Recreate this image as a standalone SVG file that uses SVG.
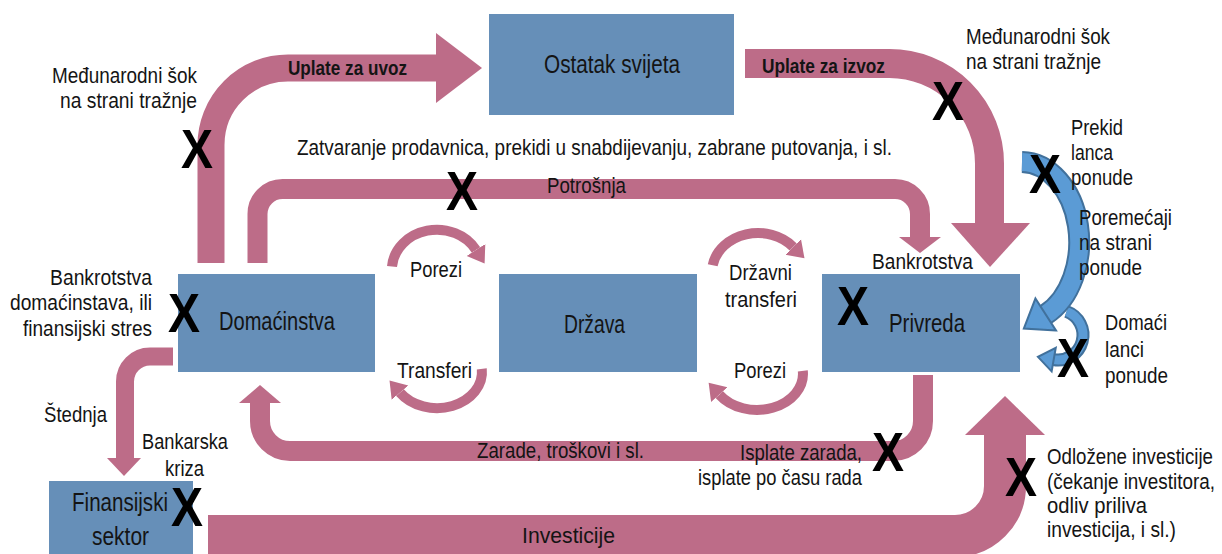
<svg xmlns="http://www.w3.org/2000/svg" width="1222" height="554" viewBox="0 0 1222 554">
<style>
.box{fill:#668fb8}
.t{font-family:"Liberation Sans",Arial,sans-serif;font-size:22px;fill:#141414}
.bt{font-size:25px}
.bold{font-weight:bold;font-size:21px}
.x{font-family:"Liberation Sans",Arial,sans-serif;font-weight:bold;font-size:56px;fill:#000;text-anchor:middle}
.mid{text-anchor:middle}
.end{text-anchor:end}
.pk{fill:none;stroke:#bd6c88}
.pf{fill:#bd6c88}
.sm{fill:none;stroke:#bd6c88;stroke-width:10}
.bo{fill:none;stroke:#41719c}
.bi{fill:none;stroke:#5b9bd5}
</style>
<defs>
<marker id="ph" markerUnits="userSpaceOnUse" viewBox="0 -12 18 24" markerWidth="18" markerHeight="24" refX="0" refY="0" orient="auto">
<path d="M0,-11 L16,0 L0,11 z" fill="#bd6c88"/>
</marker>
<marker id="bh" markerUnits="userSpaceOnUse" viewBox="-2 -22 32 44" markerWidth="32" markerHeight="44" refX="0" refY="0" orient="auto">
<path d="M0,-19 L26,0 L0,19 z" fill="#5b9bd5" stroke="#41719c" stroke-width="2"/>
</marker>
<marker id="bs" markerUnits="userSpaceOnUse" viewBox="-2 -14 20 28" markerWidth="20" markerHeight="28" refX="0" refY="0" orient="auto">
<path d="M0,-12 L16,0 L0,12 z" fill="#5b9bd5" stroke="#41719c" stroke-width="2"/>
</marker>
</defs>

<g id="connectors">
<path class="pk" stroke-width="27" d="M211,263 V145 A77,77 0 0 1 288,68 H437"/>
<polygon class="pf" points="436,33 482,68 436,103"/>
<path class="pk" stroke-width="29" d="M745,63.5 H889.5 A100,100 0 0 1 989.5,163.5 V224"/>
<polygon class="pf" points="951,223 1030,223 990,267"/>
<path class="pk" stroke-width="20" d="M257.5,263 V214 A25,25 0 0 1 282.5,189 H895 A25,25 0 0 1 920,214 V238"/>
<polygon class="pf" points="899,237 941,237 920,253"/>
<path class="pk" stroke-width="20" d="M923,375 V421 A30,30 0 0 1 893,451 H290 A30,30 0 0 1 260,421 V402"/>
<polygon class="pf" points="239,403 281,403 260,385"/>
<path class="pk" stroke-width="18" d="M173,356.5 H150 A25,25 0 0 0 125,381.5 V459"/>
<polygon class="pf" points="107,458 141,458 124,476"/>
<path class="pk" stroke-width="42" d="M208,536 H955 A50,50 0 0 0 1005,486 V434"/>
<polygon class="pf" points="965,435 1045,435 1005,396"/>
<path class="sm" marker-end="url(#ph)" d="M392,266.5 A45,40 0 0 1 476,250"/>
<path class="sm" marker-end="url(#ph)" d="M481.8,368.9 A45,36 0 0 1 400,392.6"/>
<path class="sm" marker-end="url(#ph)" d="M712.7,265.2 A46,39 0 0 1 793.2,246.9"/>
<path class="sm" marker-end="url(#ph)" d="M802.8,370.9 A46,36 0 0 1 719.3,394.6"/>
<path class="bo" stroke-width="13" d="M1066.6,311.5 A25,25 0 0 1 1053.7,359.6"/>
<path class="bi" stroke-width="9" marker-end="url(#bs)" d="M1066.6,311.5 A25,25 0 0 1 1053.7,359.6"/>
<path class="bo" stroke-width="22" d="M1022,162 A58,80 0 0 1 1045.7,314.5"/>
<path class="bi" stroke-width="18" marker-end="url(#bh)" d="M1022,162 A58,80 0 0 1 1045.7,314.5"/>
</g>

<g id="ostatak">
<rect class="box" x="489" y="14" width="245" height="101"/>
<text class="t bt mid" x="612" y="73" textLength="136" lengthAdjust="spacingAndGlyphs">Ostatak svijeta</text>
</g>
<g id="domacinstva">
<rect class="box" x="178" y="274" width="197" height="98"/>
<text class="t bt mid" x="277" y="330" textLength="116" lengthAdjust="spacingAndGlyphs">Domaćinstva</text>
</g>
<g id="drzava">
<rect class="box" x="499" y="274" width="198" height="98"/>
<text class="t bt mid" x="594.5" y="333" textLength="61" lengthAdjust="spacingAndGlyphs">Država</text>
</g>
<g id="privreda">
<rect class="box" x="822" y="274" width="198" height="98"/>
<text class="t bt mid" x="927" y="332" textLength="76" lengthAdjust="spacingAndGlyphs">Privreda</text>
</g>
<g id="finansijski">
<rect class="box" x="49" y="481" width="144" height="80"/>
<text class="t bt mid" x="120" y="511" textLength="96" lengthAdjust="spacingAndGlyphs">Finansijski</text>
<text class="t bt mid" x="120.5" y="545" textLength="57" lengthAdjust="spacingAndGlyphs">sektor</text>
</g>

<g id="labels">
<text class="t end" x="197" y="83" textLength="145" lengthAdjust="spacingAndGlyphs">Međunarodni šok</text>
<text class="t end" x="197" y="108" textLength="137" lengthAdjust="spacingAndGlyphs">na strani tražnje</text>
<text class="t bold" x="288" y="75" textLength="119" lengthAdjust="spacingAndGlyphs">Uplate za uvoz</text>
<text class="t bold" x="762" y="73" textLength="123" lengthAdjust="spacingAndGlyphs">Uplate za izvoz</text>
<text class="t" x="966" y="44" textLength="144" lengthAdjust="spacingAndGlyphs">Međunarodni šok</text>
<text class="t" x="966" y="69" textLength="135" lengthAdjust="spacingAndGlyphs">na strani tražnje</text>
<text class="t" x="297" y="155" textLength="595" lengthAdjust="spacingAndGlyphs">Zatvaranje prodavnica, prekidi u snabdijevanju, zabrane putovanja, i sl.</text>
<text class="t" x="547" y="193" textLength="79" lengthAdjust="spacingAndGlyphs">Potrošnja</text>
<text class="t" x="1071" y="135" textLength="52" lengthAdjust="spacingAndGlyphs">Prekid</text>
<text class="t" x="1071" y="160" textLength="42" lengthAdjust="spacingAndGlyphs">lanca</text>
<text class="t" x="1071" y="185" textLength="62" lengthAdjust="spacingAndGlyphs">ponude</text>
<text class="t" x="1079" y="225" textLength="93" lengthAdjust="spacingAndGlyphs">Poremećaji</text>
<text class="t" x="1079" y="250" textLength="73" lengthAdjust="spacingAndGlyphs">na strani</text>
<text class="t" x="1079" y="275" textLength="63" lengthAdjust="spacingAndGlyphs">ponude</text>
<text class="t" x="872" y="269" textLength="101" lengthAdjust="spacingAndGlyphs">Bankrotstva</text>
<text class="t" x="1105" y="330" textLength="62" lengthAdjust="spacingAndGlyphs">Domaći</text>
<text class="t" x="1105" y="357" textLength="39" lengthAdjust="spacingAndGlyphs">lanci</text>
<text class="t" x="1105" y="383" textLength="63" lengthAdjust="spacingAndGlyphs">ponude</text>
<text class="t end" x="152" y="285" textLength="102" lengthAdjust="spacingAndGlyphs">Bankrotstva</text>
<text class="t end" x="152" y="310" textLength="142" lengthAdjust="spacingAndGlyphs">domaćinstava, ili</text>
<text class="t end" x="152" y="336" textLength="129" lengthAdjust="spacingAndGlyphs">finansijski stres</text>
<text class="t mid" x="436" y="277" textLength="52" lengthAdjust="spacingAndGlyphs">Porezi</text>
<text class="t mid" x="434.5" y="378" textLength="75" lengthAdjust="spacingAndGlyphs">Transferi</text>
<text class="t mid" x="760.5" y="280" textLength="63" lengthAdjust="spacingAndGlyphs">Državni</text>
<text class="t mid" x="761" y="307" textLength="72" lengthAdjust="spacingAndGlyphs">transferi</text>
<text class="t mid" x="760" y="378" textLength="52" lengthAdjust="spacingAndGlyphs">Porezi</text>
<text class="t" x="44" y="422" textLength="63" lengthAdjust="spacingAndGlyphs">Štednja</text>
<text class="t mid" x="185" y="449" textLength="86" lengthAdjust="spacingAndGlyphs">Bankarska</text>
<text class="t mid" x="184.5" y="476" textLength="39" lengthAdjust="spacingAndGlyphs">kriza</text>
<text class="t" x="477" y="458" textLength="167" lengthAdjust="spacingAndGlyphs">Zarade, troškovi i sl.</text>
<text class="t end" x="862" y="460" textLength="122" lengthAdjust="spacingAndGlyphs">Isplate zarada,</text>
<text class="t end" x="862" y="485" textLength="164" lengthAdjust="spacingAndGlyphs">isplate po času rada</text>
<text class="t" x="522" y="543" textLength="93" lengthAdjust="spacingAndGlyphs">Investicije</text>
<text class="t" x="1047" y="464" textLength="166" lengthAdjust="spacingAndGlyphs">Odložene investicije</text>
<text class="t" x="1047" y="489" textLength="168" lengthAdjust="spacingAndGlyphs">(čekanje investitora,</text>
<text class="t" x="1047" y="513" textLength="100" lengthAdjust="spacingAndGlyphs">odliv priliva</text>
<text class="t" x="1047" y="537" textLength="129" lengthAdjust="spacingAndGlyphs">investicija, i sl.)</text>
</g>

<g id="shocks">
<text class="x" x="197" y="168" textLength="32" lengthAdjust="spacingAndGlyphs">X</text>
<text class="x" x="462" y="210" textLength="32" lengthAdjust="spacingAndGlyphs">X</text>
<text class="x" x="948" y="120" textLength="32" lengthAdjust="spacingAndGlyphs">X</text>
<text class="x" x="1045" y="193" textLength="32" lengthAdjust="spacingAndGlyphs">X</text>
<text class="x" x="184" y="332" textLength="32" lengthAdjust="spacingAndGlyphs">X</text>
<text class="x" x="853" y="325" textLength="32" lengthAdjust="spacingAndGlyphs">X</text>
<text class="x" x="1073" y="377" textLength="32" lengthAdjust="spacingAndGlyphs">X</text>
<text class="x" x="187" y="526" textLength="32" lengthAdjust="spacingAndGlyphs">X</text>
<text class="x" x="888" y="471" textLength="32" lengthAdjust="spacingAndGlyphs">X</text>
<text class="x" x="1021" y="496" textLength="32" lengthAdjust="spacingAndGlyphs">X</text>
</g>
</svg>
